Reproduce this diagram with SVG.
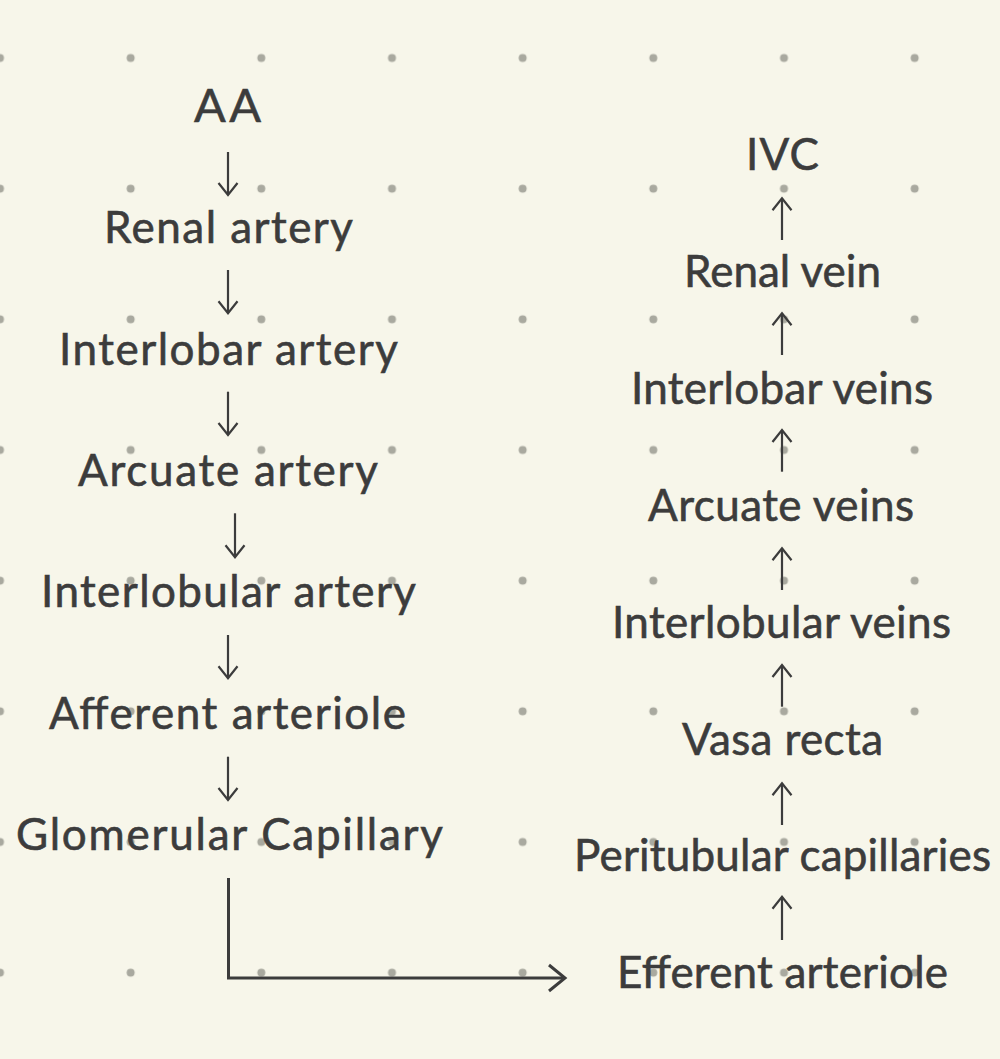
<svg xmlns="http://www.w3.org/2000/svg" width="1000" height="1059" viewBox="0 0 1000 1059">
  <style>
    .lbl { font-family: Lato, "Open Sans", "Liberation Sans", sans-serif; font-size: 44px; fill: #3c3c3c; stroke: #3c3c3c; stroke-width: 0.6; text-anchor: middle; }
    .big { font-size: 47px; }
    .arr { fill: none; stroke: #3c3c3c; stroke-width: 2.2; marker-end: url(#head); }
    .elbow { fill: none; stroke: #3c3c3c; stroke-width: 3; marker-end: url(#bighead); }
  </style>
  <defs>
    <pattern id="dots" patternUnits="userSpaceOnUse" x="-65.333" y="-7.333" width="130.667" height="130.667">
      <circle cx="65.333" cy="65.333" r="4" fill="#a9a99f"/>
    </pattern>
    <marker id="head" markerUnits="userSpaceOnUse" orient="auto" overflow="visible" markerWidth="1" markerHeight="1" refX="0" refY="0">
      <path d="M-12,-9.5 L0,0 L-12,9.5" fill="none" stroke="#3c3c3c" stroke-width="2.2"/>
    </marker>
    <marker id="bighead" markerUnits="userSpaceOnUse" orient="auto" overflow="visible" markerWidth="1" markerHeight="1" refX="0" refY="0">
      <path d="M-16,-13 L0,0 L-16,13" fill="none" stroke="#3c3c3c" stroke-width="3"/>
    </marker>
  </defs>
  <rect width="1000" height="1059" fill="#f7f6ea"/>
  <rect width="1000" height="1059" fill="url(#dots)"/>

  <g id="connectors">
    <path class="arr" d="M228,152 V195"/>
    <path class="arr" d="M228,270 V313.3"/>
    <path class="arr" d="M228,391.7 V435"/>
    <path class="arr" d="M235,513.3 V557.3"/>
    <path class="arr" d="M228,635 V678.3"/>
    <path class="arr" d="M228,756.7 V800"/>
    <path class="elbow" d="M228.5,878 V978 H565"/>
    <path class="arr" d="M782,940 V896.7"/>
    <path class="arr" d="M782,825 V783.3"/>
    <path class="arr" d="M782,706.7 V665"/>
    <path class="arr" d="M782,590 V548.3"/>
    <path class="arr" d="M782,471.7 V430"/>
    <path class="arr" d="M782,355 V313.3"/>
    <path class="arr" d="M782,240 V198.3"/>
  </g>

  <g id="node-aa"><text class="lbl big" x="227.5" y="122" textLength="67">AA</text></g>
  <g id="node-renal-artery"><text class="lbl" x="228.5" y="243.3" textLength="249">Renal artery</text></g>
  <g id="node-interlobar-artery"><text class="lbl" x="228.5" y="364.7" textLength="339">Interlobar artery</text></g>
  <g id="node-arcuate-artery"><text class="lbl" x="228" y="486" textLength="300">Arcuate artery</text></g>
  <g id="node-interlobular-artery"><text class="lbl" x="228.5" y="607.3" textLength="375">Interlobular artery</text></g>
  <g id="node-afferent-arteriole"><text class="lbl" x="227.5" y="728.7" textLength="357">Afferent arteriole</text></g>
  <g id="node-glomerular-capillary"><text class="lbl" x="229.5" y="850" textLength="427">Glomerular Capillary</text></g>

  <g id="node-ivc"><text class="lbl" x="782.5" y="170" textLength="73">IVC</text></g>
  <g id="node-renal-vein"><text class="lbl" x="782.5" y="286.9" textLength="197">Renal vein</text></g>
  <g id="node-interlobar-veins"><text class="lbl" x="782" y="403.8" textLength="302">Interlobar veins</text></g>
  <g id="node-arcuate-veins"><text class="lbl" x="781" y="520.7" textLength="266">Arcuate veins</text></g>
  <g id="node-interlobular-veins"><text class="lbl" x="781.5" y="637.6" textLength="339">Interlobular veins</text></g>
  <g id="node-vasa-recta"><text class="lbl" x="782.5" y="754.5" textLength="201">Vasa recta</text></g>
  <g id="node-peritubular-capillaries"><text class="lbl" x="782.5" y="871.4" textLength="417">Peritubular capillaries</text></g>
  <g id="node-efferent-arteriole"><text class="lbl" x="782.5" y="988.3" textLength="331">Efferent arteriole</text></g>
</svg>
